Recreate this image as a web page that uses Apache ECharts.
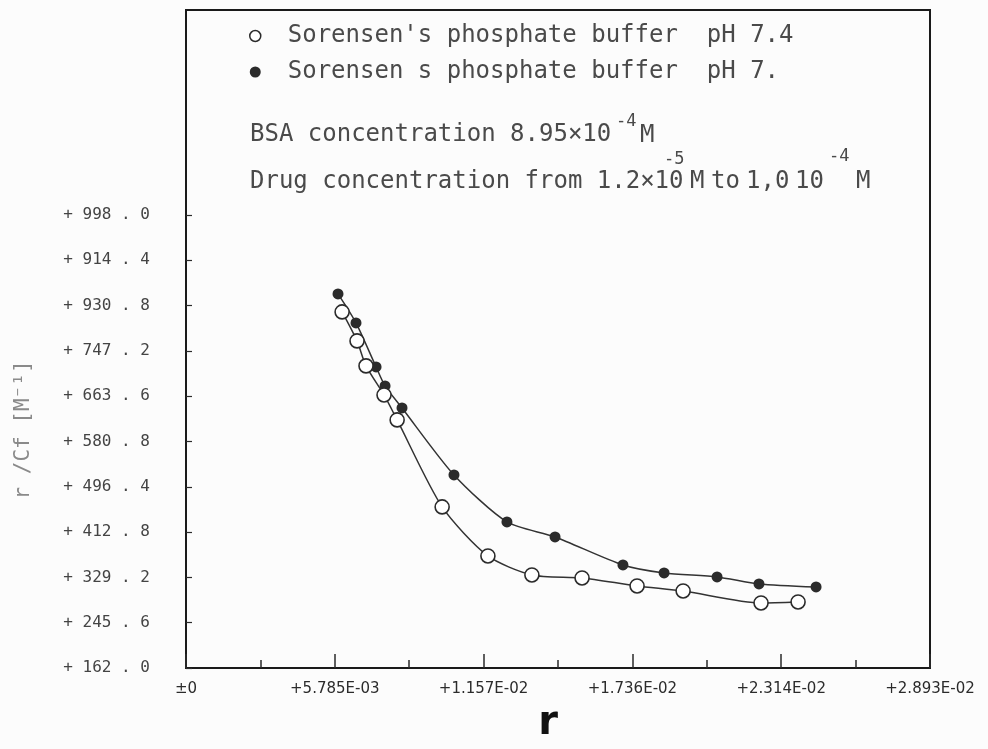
<!DOCTYPE html>
<html>
<head>
<meta charset="utf-8">
<script src="https://cdn.jsdelivr.net/npm/echarts@6/dist/echarts.min.js"></script>
<style>
  html, body { margin: 0; padding: 0; background: #fcfcfc; }
  #chart { width: 988px; height: 749px; }
</style>
</head>
<body>
<div id="chart"></div>
<script>
// Scatchard-type plot: r/Cf against r for BSA in two phosphate buffers
const nameOpen = "Sorensen's phosphate buffer  pH 7.4";
const nameFilled = "Sorensen s phosphate buffer  pH 7.";

// open circles (pH 7.4)
const rOpen = [0.00607, 0.00665, 0.00700, 0.00770, 0.00821, 0.00996, 0.01174,
  0.01345, 0.01540, 0.01754, 0.01933, 0.02236, 0.02380];
const ratioOpen = [819.0, 765.5, 719.4, 665.8, 619.7, 459.2, 368.7,
  333.7, 328.1, 313.4, 304.1, 282.0, 283.8];

// filled circles (pH 7.)
const rFilled = [0.00591, 0.00661, 0.00739, 0.00774, 0.00840, 0.01042, 0.01248,
  0.01435, 0.01699, 0.01859, 0.02065, 0.02228, 0.02450];
const ratioFilled = [852.2, 798.7, 717.5, 682.4, 641.8, 518.2, 431.5,
  403.8, 352.1, 337.4, 330.0, 317.1, 311.5];

// axis ticks, as printed on the plot
const xStep = 0.005786;
const xTickLabels = ['±0', '+5.785E-03', '+1.157E-02', '+1.736E-02', '+2.314E-02', '+2.893E-02'];
const yTickValues = [162.0, 245.6, 329.2, 412.8, 496.4, 580.0, 663.6, 747.2, 830.8, 914.4, 998.0];
const yTickLabels = ['+ 162 . 0', '+ 245 . 6', '+ 329 . 2', '+ 412 . 8', '+ 496 . 4', '+ 580 . 8',
  '+ 663 . 6', '+ 747 . 2', '+ 930 . 8', '+ 914 . 4', '+ 998 . 0'];

const MONO = '"DejaVu Sans Mono", monospace';
const INK = '#2b2b2b';
const TEXT = '#4a4a4a';

function zip(xs, ys) {
  return xs.map((x, i) => [x, ys[i]]);
}

function yLabel(v) {
  const i = yTickValues.findIndex(t => Math.abs(t - v) < 1e-6);
  return i < 0 ? '' : yTickLabels[i];
}

function txt(x, y, text, size) {
  return {
    type: 'text', x: x, y: y, silent: true,
    style: { text: text, font: size + 'px ' + MONO, fill: TEXT, verticalAlign: 'middle' }
  };
}

const chart = echarts.init(document.getElementById('chart'));

chart.setOption({
  animation: false,
  backgroundColor: '#fcfcfc',
  grid: {
    left: 186, right: 58, top: 10, bottom: 81,
    outerBoundsMode: 'none',
    show: true, borderColor: '#1a1a1a', borderWidth: 2
  },
  legend: {
    orient: 'vertical',
    left: 244, top: 18,
    itemWidth: 11, itemHeight: 11, itemGap: 10,
    selectedMode: false,
    textStyle: { fontFamily: MONO, fontSize: 24, color: TEXT, lineHeight: 26, padding: [0, 0, 0, 22] },
    data: [
      { name: nameOpen, icon: 'circle', itemStyle: { color: '#fff', borderColor: INK, borderWidth: 1.5 } },
      { name: nameFilled, icon: 'circle', itemStyle: { color: INK, borderWidth: 0 } }
    ]
  },
  xAxis: {
    type: 'value', min: 0, max: 0.02893, interval: xStep,
    axisLine: { show: false },
    axisTick: { inside: true, length: 14, lineStyle: { color: INK, width: 1.5 } },
    minorTick: { show: true, splitNumber: 2, length: 8, lineStyle: { color: INK, width: 1.5 } },
    splitLine: { show: false },
    minorSplitLine: { show: false },
    axisLabel: {
      margin: 14, fontFamily: '"DejaVu Sans", sans-serif', fontSize: 15, color: INK,
      formatter: v => xTickLabels[Math.round(v / xStep)] || ''
    },
    name: 'r', nameLocation: 'middle', nameGap: 36,
    nameTextStyle: { fontFamily: '"DejaVu Sans", sans-serif', fontSize: 40, fontWeight: 'bold', color: '#111', padding: [0, 20, 0, 0] }
  },
  yAxis: {
    type: 'value', min: 162, max: 1376,
    axisLine: { show: false },
    axisTick: { inside: true, length: 6, customValues: yTickValues, lineStyle: { color: INK, width: 1.2 } },
    splitLine: { show: false },
    axisLabel: {
      customValues: yTickValues, margin: 36,
      fontFamily: MONO, fontSize: 16, color: '#444',
      formatter: yLabel
    }
  },
  series: [
    {
      name: nameFilled, type: 'line', data: zip(rFilled, ratioFilled),
      symbol: 'circle', symbolSize: 11, smooth: 0.25, z: 2,
      itemStyle: { color: INK },
      lineStyle: { color: '#333', width: 1.5 }
    },
    {
      name: nameOpen, type: 'line', data: zip(rOpen, ratioOpen),
      symbol: 'circle', symbolSize: 14, smooth: 0.25, z: 3,
      itemStyle: { color: '#fff', borderColor: INK, borderWidth: 1.6 },
      lineStyle: { color: '#333', width: 1.5 }
    }
  ],
  graphic: [
    {
      type: 'text', x: 24, y: 430, rotation: Math.PI / 2, silent: true,
      style: { text: 'r /Cf [M⁻¹]', font: '21px ' + MONO, fill: '#8a8a8a', align: 'center', verticalAlign: 'middle' }
    },
    // BSA concentration 8.95x10^-4 M
    txt(250, 135, 'BSA concentration 8.95×10', 24),
    txt(616, 122, '-4', 17),
    txt(640, 136, 'M', 24),
    // Drug concentration from 1.2x10^-5 M to 1.0 10^-4 M
    txt(250, 182, 'Drug concentration from 1.2×10', 24),
    txt(664, 160, '-5', 17),
    txt(690, 182, 'M', 24),
    txt(711, 182, 'to', 24),
    txt(746, 182, '1,0', 24),
    txt(795, 182, '10', 24),
    txt(829, 157, '-4', 17),
    txt(856, 182, 'M', 24)
  ]
});
</script>
</body>
</html>
